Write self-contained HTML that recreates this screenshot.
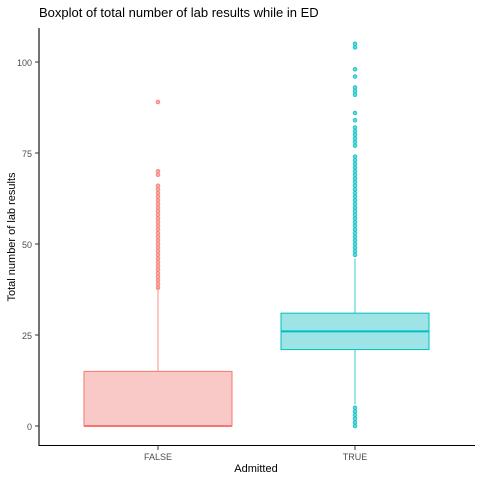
<!DOCTYPE html>
<html><head><meta charset="utf-8"><style>
body{margin:0;background:#fff}
text{font-family:"Liberation Sans",Arial,sans-serif}
</style></head><body>
<svg id="c" width="480" height="480" xmlns="http://www.w3.org/2000/svg">
<text x="39" y="17" font-size="13" fill="#000">Boxplot of total number of lab results while in ED</text>
<g id="plot"></g>
<line x1="39" y1="28" x2="39" y2="446" stroke="#000" stroke-width="1.1"/>
<line x1="38.5" y1="445.5" x2="475" y2="445.5" stroke="#000" stroke-width="1.1"/>
<text x="15" y="237" font-size="11" text-anchor="middle" transform="rotate(-90 15 237)">Total number of lab results</text>
<text x="256" y="472" font-size="11" text-anchor="middle">Admitted</text>
</svg>
<script>
const categories=["FALSE","TRUE"];
const lowerWhisker=[0,6];
const q1=[0,21];
const median=[0,26];
const q3=[15,31];
const upperWhisker=[38,46];
const outliersFalse=[38,39,40,41,42,43,44,45,46,47,48,49,50,51,52,53,54,55,56,57,58,59,60,61,62,63,64,65,66,69,70,89];
const outliersTrue=[0,1,2,3,4,5,47,48,49,50,51,52,53,54,55,56,57,58,59,60,61,62,63,64,65,66,67,68,69,70,71,72,73,74,77,78,79,80,81,82,84,86,91,92,93,96,98,104,105];
const yTicks=[0,25,50,75,100];
const colors=["#F8766D","#00BFC4"];
const fills=["#F8C9C6","#9EE3E5"];
const y=v=>426-v*3.64;
const x=i=>158+i*197;
const NS="http://www.w3.org/2000/svg";
const svg=document.getElementById('c');
const g=document.getElementById('plot');
function mk(t,a,p){const e=document.createElementNS(NS,t);for(const k in a)e.setAttribute(k,a[k]);(p||g).appendChild(e);return e;}
yTicks.forEach(v=>{
 const t=mk('line',{x1:35,x2:39,y1:y(v),y2:y(v),stroke:'#333'},svg);
 
 
 const l=mk('text',{x:32,y:y(v)+4,'font-size':9,'text-anchor':'end',fill:'#4d4d4d'},svg);
 l.textContent=v;
 
 
});
const outs=[outliersFalse,outliersTrue];
categories.forEach((c,i)=>{
 const cx=x(i),hw=74;
 const w1=mk('line',{x1:cx,x2:cx,y1:y(q3[i]),y2:y(upperWhisker[i]),stroke:colors[i],'stroke-width':0.8});
 
 
 const w2=mk('line',{x1:cx,x2:cx,y1:y(q1[i]),y2:y(lowerWhisker[i]),stroke:colors[i],'stroke-width':0.8});
 
 
 const b=mk('rect',{x:cx-hw,y:y(q3[i]),width:hw*2,height:Math.max(y(q1[i])-y(q3[i]),0.5),fill:fills[i],stroke:colors[i],'stroke-width':1});
 
 
 const m=mk('line',{x1:cx-hw,x2:cx+hw,y1:y(median[i]),y2:y(median[i]),stroke:colors[i],'stroke-width':2});
 
 
 outs[i].forEach(v=>{
  const p=mk('circle',{cx:cx,cy:y(v),r:1.8,fill:colors[i],'fill-opacity':0.6,stroke:colors[i],'stroke-opacity':0.9,'stroke-width':0.9});
  
  
 });
 const t=mk('line',{x1:cx,x2:cx,y1:446,y2:450,stroke:'#333'},svg);
 
 
 const l=mk('text',{x:cx,y:460,'font-size':9,'text-anchor':'middle',fill:'#4d4d4d'},svg);
 l.textContent=c;
 
 
});
</script>
</body></html>
